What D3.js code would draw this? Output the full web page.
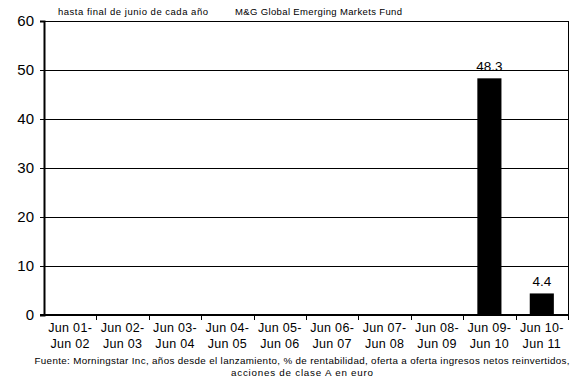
<!DOCTYPE html>
<html>
<head>
<meta charset="utf-8">
<script src="https://cdn.jsdelivr.net/npm/d3@7"></script>
<style>
  html, body { margin: 0; padding: 0; background: #fff; }
  svg { display: block; font-family: Arial, "Liberation Sans", sans-serif; }
</style>
</head>
<body>
<svg id="chart" width="574" height="387"></svg>
<script>
// Annual returns to end of June, M&G Global Emerging Markets Fund (class A, EUR)
const periodsTop = ["Jun 01-", "Jun 02-", "Jun 03-", "Jun 04-", "Jun 05-", "Jun 06-", "Jun 07-", "Jun 08-", "Jun 09-", "Jun 10-"];
const periodsBottom = ["Jun 02", "Jun 03", "Jun 04", "Jun 05", "Jun 06", "Jun 07", "Jun 08", "Jun 09", "Jun 10", "Jun 11"];
const returns = [null, null, null, null, null, null, null, null, 48.3, 4.4];
const yTicks = [0, 10, 20, 30, 40, 50, 60];
const subtitle = "hasta final de junio de cada año";
const fundName = "M&G Global Emerging Markets Fund";
const sourceLines = [
  "Fuente: Morningstar Inc, años desde el lanzamiento, % de rentabilidad, oferta a oferta ingresos netos reinvertidos,",
  "acciones de clase A en euro"
];

const svg = d3.select("#chart");
const plot = { left: 44, right: 568, top: 21, bottom: 315 };

const x = d3.scaleBand()
  .domain(d3.range(periodsTop.length))
  .range([plot.left, plot.right])
  .paddingInner(0.54)
  .paddingOuter(0.27);

const xEdges = d3.scaleLinear().domain([0, periodsTop.length]).range([plot.left, plot.right]);

const y = d3.scaleLinear().domain([0, 60]).range([plot.bottom, plot.top]);

// horizontal gridlines
svg.append("g")
  .selectAll("line")
  .data(yTicks.filter(d => d > 0))
  .join("line")
  .attr("x1", plot.left).attr("x2", plot.right)
  .attr("y1", d => Math.round(y(d)) + 0.5).attr("y2", d => Math.round(y(d)) + 0.5)
  .attr("stroke", "#000").attr("stroke-width", 1);

// right frame edge
svg.append("line")
  .attr("x1", plot.right + 0.5).attr("x2", plot.right + 0.5)
  .attr("y1", y(60)).attr("y2", y(0))
  .attr("stroke", "#000").attr("stroke-width", 1);

// bars
const barData = returns.map((v, i) => ({ i, v })).filter(d => d.v != null);
svg.append("g")
  .selectAll("rect")
  .data(barData)
  .join("rect")
  .attr("x", d => x(d.i))
  .attr("width", x.bandwidth())
  .attr("y", d => y(d.v))
  .attr("height", d => y(0) - y(d.v))
  .attr("fill", "#000");

// value labels
svg.append("g")
  .selectAll("text")
  .data(barData)
  .join("text")
  .attr("x", d => x(d.i) + x.bandwidth() / 2)
  .attr("y", d => y(d.v) - 7)
  .attr("text-anchor", "middle")
  .attr("font-size", 13.5)
  .attr("fill", "#000")
  .text(d => d.v.toFixed(1));

// y axis
const yAxis = d3.axisLeft(y).tickValues(yTicks).tickSize(4).tickPadding(6);
const gy = svg.append("g")
  .attr("transform", `translate(${plot.left},0)`)
  .call(yAxis);
gy.select(".domain").attr("stroke", "#000").attr("stroke-width", 2);
gy.selectAll(".tick line").attr("stroke", "#000").attr("stroke-width", 1);
gy.selectAll(".tick text").attr("font-size", 15).attr("font-family", "Arial, 'Liberation Sans', sans-serif").attr("fill", "#000");

// x axis baseline and ticks at category boundaries
const gx = svg.append("g");
gx.append("line")
  .attr("x1", plot.left - 4).attr("x2", plot.right + 1)
  .attr("y1", y(0)).attr("y2", y(0))
  .attr("stroke", "#000").attr("stroke-width", 2);
gx.selectAll("line.tick")
  .data(d3.range(1, periodsTop.length + 1))
  .join("line")
  .attr("class", "tick")
  .attr("x1", d => Math.round(xEdges(d)) + 0.5).attr("x2", d => Math.round(xEdges(d)) + 0.5)
  .attr("y1", y(0)).attr("y2", y(0) + 5)
  .attr("stroke", "#000").attr("stroke-width", 1);

// two-line category labels
const labels = gx.selectAll("text.cat")
  .data(d3.range(periodsTop.length))
  .join("text")
  .attr("class", "cat")
  .attr("text-anchor", "middle")
  .attr("font-size", 12.5)
  .attr("letter-spacing", 0.3)
  .attr("fill", "#000");
labels.append("tspan")
  .attr("x", i => x(i) + x.bandwidth() / 2)
  .attr("y", 332)
  .text(i => periodsTop[i]);
labels.append("tspan")
  .attr("x", i => x(i) + x.bandwidth() / 2)
  .attr("y", 348)
  .text(i => periodsBottom[i]);

// header texts, widened to a fixed run length
svg.append("text")
  .attr("x", 58).attr("y", 15)
  .attr("font-size", 9.5)
  .attr("textLength", 150).attr("lengthAdjust", "spacing")
  .attr("fill", "#000")
  .text(subtitle);
svg.append("text")
  .attr("x", 235).attr("y", 15)
  .attr("font-size", 9.5)
  .attr("textLength", 167).attr("lengthAdjust", "spacing")
  .attr("fill", "#000")
  .text(fundName);

// source note
const sourceWidths = [535, 142];
svg.append("g")
  .selectAll("text")
  .data(sourceLines)
  .join("text")
  .attr("x", 302)
  .attr("y", (d, i) => 364 + i * 12)
  .attr("text-anchor", "middle")
  .attr("font-size", 9.8)
  .attr("textLength", (d, i) => sourceWidths[i]).attr("lengthAdjust", "spacing")
  .attr("fill", "#000")
  .text(d => d);
</script>
</body>
</html>
